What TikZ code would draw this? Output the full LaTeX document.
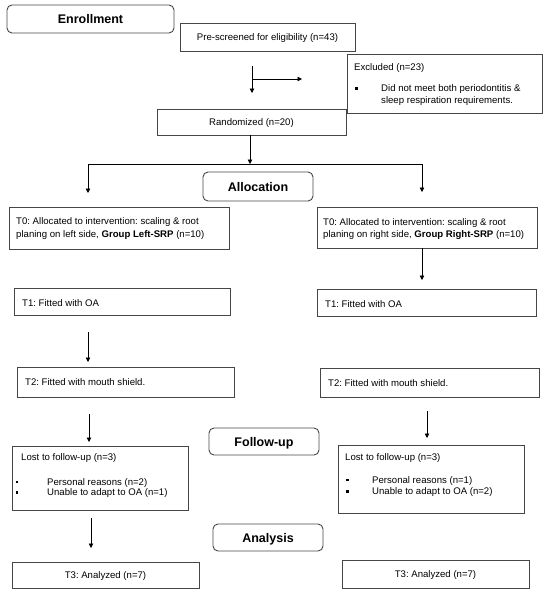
\documentclass[tikz,border=0pt]{standalone}
\usepackage{fontspec}
\setmainfont{Liberation Sans}
\usetikzlibrary{arrows.meta,fit}
\definecolor{boxc}{RGB}{70,70,70}
\frenchspacing
\newcommand{\bodyfont}{\fontsize{9.6}{11.5}\selectfont\frenchspacing}
\newcommand{\hdrfont}{\fontsize{12.5}{15}\selectfont\bfseries}
\newcommand{\sqb}{\rule[1.8pt]{2.8pt}{2.8pt}}
\begin{document}
\begin{tikzpicture}[x=1pt,y=-1pt,
 box/.style={draw=boxc, line width=0.9pt, inner sep=0pt, outer sep=0pt},
 rbox/.style={box, rounded corners=5pt},
 txt/.style={inner sep=0pt, anchor=base west, font=\bodyfont},
 ctxt/.style={inner sep=0pt, anchor=center, font=\bodyfont, text height=6.9pt, text depth=0pt},
 hdr/.style={inner sep=0pt, anchor=center, font=\hdrfont, text height=9pt, text depth=0pt},
 ln/.style={draw=black, line width=0.7pt},
 arr/.style={ln, -{Triangle[length=4.5pt,width=4.5pt]}},
]
\useasboundingbox (0,0) rectangle (550,597);

% boxes
\node[rbox, fit={(7,5) (174,33)}] (enroll) {};
\node[box, fit={(180,23) (355,51)}] (pre) {};
\node[box, fit={(347,54) (542,113)}] (excl) {};
\node[box, fit={(157,109) (346,135)}] (rand) {};
\node[rbox, fit={(203,172) (313,201)}] (alloc) {};
\node[box, fit={(9,207) (229,249)}] (t0l) {};
\node[box, fit={(317,207) (537,248)}] (t0r) {};
\node[box, fit={(14,288) (230,315)}] (t1l) {};
\node[box, fit={(317,289) (536,316)}] (t1r) {};
\node[box, fit={(17,367) (234,397)}] (t2l) {};
\node[box, fit={(320,368) (539,397)}] (t2r) {};
\node[rbox, fit={(209,428) (319,455)}] (fu) {};
\node[box, fit={(12,446) (188,510)}] (lostl) {};
\node[box, fit={(338,445) (524,513)}] (lostr) {};
\node[rbox, fit={(213,524) (323,551)}] (anal) {};
\node[box, fit={(12,562) (199,588)}] (t3l) {};
\node[box, fit={(342,560) (529,588)}] (t3r) {};

% headers
\node[hdr] (enrollT) at (enroll.center) {Enrollment};
\node[hdr] (allocT) at (alloc.center) {Allocation};
\node[hdr] (fuT) at (fu.center) {Follow-up};
\node[hdr] (analT) at (anal.center) {Analysis};

% centred texts
\node[ctxt] (preT) at (pre.center) {Pre-screened for eligibility (n=43)};
\node[ctxt] (randT) at (rand.center) {Randomized (n=20)};
\node[ctxt] (t3lT) at (t3l.center) {T3: Analyzed (n=7)};
\node[ctxt] (t3rT) at (t3r.center) {T3: Analyzed (n=7)};

% excluded
\node[txt] (exT1) at (354,70.7) {Excluded (n=23)};
\node[txt] (exB) at (355,91.7) {\sqb};
\node[txt] (exT2) at (381,91.7) {Did not meet both periodontitis \&};
\node[txt] (exT3) at (381,103.2) {sleep respiration requirements.};

% T0
\node[txt] (t0lA) at (16,224.7) {T0: Allocated to intervention: scaling \& root};
\node[txt] (t0lB) at (16,237.2) {planing on left side, \textbf{Group Left-SRP} (n=10)};
\node[txt] (t0rA) at (323,225.2) {T0: Allocated to intervention: scaling \& root};
\node[txt] (t0rB) at (323,237.7) {planing on right side, \textbf{Group Right-SRP} (n=10)};

% T1, T2
\node[txt] (t1lT) at (22,306.2) {T1: Fitted with OA};
\node[txt] (t1rT) at (325,307.2) {T1: Fitted with OA};
\node[txt] (t2lT) at (25,385.2) {T2: Fitted with mouth shield.};
\node[txt] (t2rT) at (328,386.2) {T2: Fitted with mouth shield.};

% lost
\node[txt] (llA) at (21,460.7) {Lost to follow-up (n=3)};
\node[txt] (llB1) at (15.3,485.2) {\sqb};
\node[txt] (llB) at (47,485.2) {Personal reasons (n=2)};
\node[txt] (llC1) at (15.3,495.7) {\sqb};
\node[txt] (llC) at (47,495.7) {Unable to adapt to OA (n=1)};
\node[txt] (lrA) at (345,460.7) {Lost to follow-up (n=3)};
\node[txt] (lrB1) at (346,483.2) {\sqb};
\node[txt] (lrB) at (372,483.2) {Personal reasons (n=1)};
\node[txt] (lrC1) at (346,494.7) {\sqb};
\node[txt] (lrC) at (372,494.7) {Unable to adapt to OA (n=2)};

% connectors
\coordinate (c1) at (252,0);
\draw[arr, shorten <=15pt, shorten >=16pt] (pre.south -| c1) -- (rand.north -| c1);
\coordinate (br) at (252,79);
\draw[arr, shorten >=45pt] (br) -- (br -| excl.west);
\coordinate (split) at (250,164);
\draw[arr] (rand.south -| split) -- (split);
\coordinate (sL) at (88,164);
\coordinate (sR) at (422,164);
\draw[ln] (sL) -- (sR);
\draw[arr, shorten >=14pt] (sL) -- (sL |- t0l.north);
\draw[arr, shorten >=15pt] (sR) -- (sR |- t0r.north);
\draw[arr, shorten >=9pt] (t0r.south -| sR) -- (t1r.north -| sR);
\coordinate (cL1) at (88,0);
\draw[arr, shorten <=17pt, shorten >=5pt] (t1l.south -| cL1) -- (t2l.north -| cL1);
\coordinate (cL2) at (89,0);
\draw[arr, shorten <=17pt, shorten >=4pt] (t2l.south -| cL2) -- (lostl.north -| cL2);
\coordinate (cR2) at (427,0);
\draw[arr, shorten <=14pt, shorten >=7pt] (t2r.south -| cR2) -- (lostr.north -| cR2);
\coordinate (cL3) at (91,0);
\draw[arr, shorten <=8pt, shorten >=14pt] (lostl.south -| cL3) -- (t3l.north -| cL3);
\end{tikzpicture}
\end{document}
